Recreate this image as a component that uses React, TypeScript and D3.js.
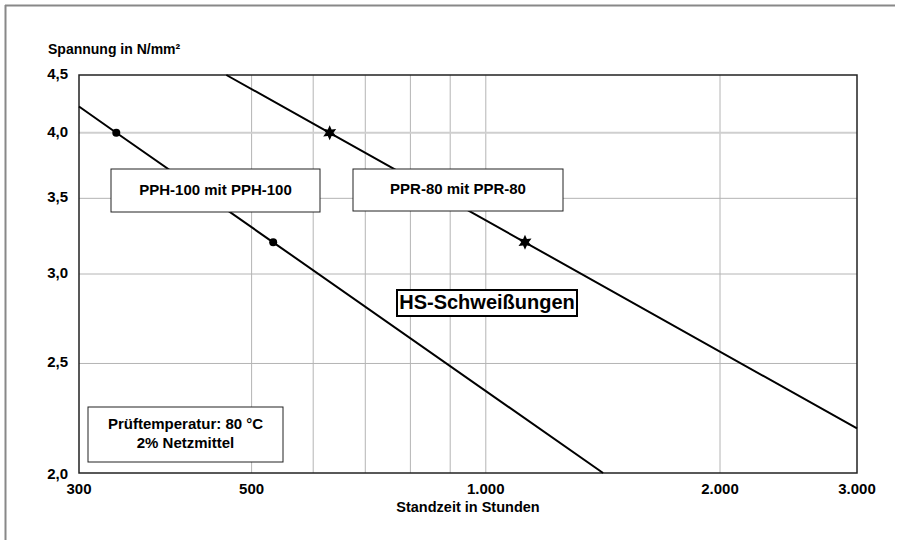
import { scaleLog, line, lineRadial, curveLinearClosed } from "d3";

// x: Standzeit in Stunden, y: Spannung in N/mm²
const xTicks = [300, 500, 1000, 2000, 3000];
const xTickLabels = ["300", "500", "1.000", "2.000", "3.000"];
const xGrid = [500, 600, 700, 800, 900, 1000, 2000];
const yTicks = [2.0, 2.5, 3.0, 3.5, 4.0, 4.5];
const yTickLabels = ["2,0", "2,5", "3,0", "3,5", "4,0", "4,5"];
const yGrid = [2.5, 3.0, 3.5, 4.0];

// PPH-100 mit PPH-100
const pphLine = [
  [300, 4.22],
  [335, 4.0],
  [533, 3.2],
  [1415, 2.0],
];
const pphPoints = [
  [335, 4.0],
  [533, 3.2],
];

// PPR-80 mit PPR-80
const pprLine = [
  [464, 4.5],
  [630, 4.0],
  [1123, 3.2],
  [3000, 2.19],
];
const pprPoints = [
  [630, 4.0],
  [1123, 3.2],
];

const W = 901;
const H = 540;
const left = 79;
const right = 857;
const top = 75;
const bottom = 473;
const font = "'Liberation Sans', Arial, sans-serif";

const App = () => {
  const x = scaleLog().domain([300, 3000]).range([left, right]);
  const y = scaleLog().domain([2, 4.5]).range([bottom, top]);

  const path = line<number[]>()
    .x((d) => x(d[0]))
    .y((d) => y(d[1]));

  // six-pointed star
  const starPts: [number, number][] = [];
  for (let i = 0; i < 12; i++) {
    starPts.push([(i * Math.PI) / 6, i % 2 === 0 ? 7.5 : 3.8]);
  }
  const star = lineRadial().curve(curveLinearClosed)(starPts) as string;

  return (
    <div style={{ position: "absolute", left: 0, top: 0 }}>
      <svg width={W} height={H} style={{ display: "block", fontFamily: font }}>
        <rect width={W} height={H} fill="#fff" />
        {/* outer frame (top + left) */}
        <line x1={5} y1={5.5} x2={895} y2={5.5} stroke="#888" strokeWidth={2} />
        <line x1={5.5} y1={5} x2={5.5} y2={H} stroke="#888" strokeWidth={2} />

        {/* grid */}
        {xGrid.map((v) => (
          <line key={"gx" + v} x1={x(v)} x2={x(v)} y1={top} y2={bottom} stroke="#b4b4b4" strokeWidth={1} />
        ))}
        {yGrid.map((v) => (
          <line
            key={"gy" + v}
            x1={left}
            x2={right}
            y1={y(v)}
            y2={y(v)}
            stroke={v === 4.0 ? "#cfcfcf" : "#b4b4b4"}
            strokeWidth={v === 4.0 ? 2 : 1}
          />
        ))}

        {/* plot frame */}
        <rect x={left} y={top} width={right - left} height={bottom - top} fill="none" stroke="#222" strokeWidth={1.5} />

        {/* y tick labels */}
        {yTicks.map((v, i) => (
          <text
            key={"yt" + v}
            x={68}
            y={y(v) + (v === 2 ? 2 : 0)}
            textAnchor="end"
            dominantBaseline="middle"
            fontSize={15}
            fontWeight="bold"
          >
            {yTickLabels[i]}
          </text>
        ))}
        {/* x tick labels */}
        {xTicks.map((v, i) => (
          <text
            key={"xt" + v}
            x={x(v)}
            y={490}
            textAnchor="middle"
            dominantBaseline="middle"
            fontSize={15}
            fontWeight="bold"
          >
            {xTickLabels[i]}
          </text>
        ))}

        <text x={48} y={50} dominantBaseline="middle" fontSize={14} fontWeight="bold">
          Spannung in N/mm²
        </text>
        <text x={468} y={508} textAnchor="middle" dominantBaseline="middle" fontSize={14.5} fontWeight="bold">
          Standzeit in Stunden
        </text>

        {/* series lines */}
        <path d={path(pphLine) as string} fill="none" stroke="#000" strokeWidth={2} />
        <path d={path(pprLine) as string} fill="none" stroke="#000" strokeWidth={2} />
        {pphPoints.map((p, i) => (
          <circle key={"c" + i} cx={x(p[0])} cy={y(p[1])} r={4} fill="#000" />
        ))}
        {pprPoints.map((p, i) => (
          <path key={"s" + i} d={star} transform={`translate(${x(p[0])},${y(p[1])})`} fill="#000" />
        ))}

        {/* labels */}
        <rect x={111} y={169} width={209} height={43} fill="#fff" stroke="#222" strokeWidth={1} />
        <text x={215.5} y={191} textAnchor="middle" dominantBaseline="middle" fontSize={15} fontWeight="bold">
          PPH-100 mit PPH-100
        </text>

        <rect x={353} y={169} width={210} height={42} fill="#fff" stroke="#222" strokeWidth={1} />
        <text x={458} y={190} textAnchor="middle" dominantBaseline="middle" fontSize={15} fontWeight="bold">
          PPR-80 mit PPR-80
        </text>

        <rect x={397} y={290} width={180} height={26} fill="#fff" stroke="#000" strokeWidth={2} />
        <text x={487} y={304} textAnchor="middle" dominantBaseline="middle" fontSize={20} fontWeight="bold">
          HS-Schweißungen
        </text>

        <rect x={88} y={407} width={195} height={55} fill="#fff" stroke="#222" strokeWidth={1} />
        <text x={185.5} y={425} textAnchor="middle" dominantBaseline="middle" fontSize={15} fontWeight="bold">
          Prüftemperatur: 80 °C
        </text>
        <text x={185.5} y={444} textAnchor="middle" dominantBaseline="middle" fontSize={15} fontWeight="bold">
          2% Netzmittel
        </text>
      </svg>
    </div>
  );
};

export default App;
